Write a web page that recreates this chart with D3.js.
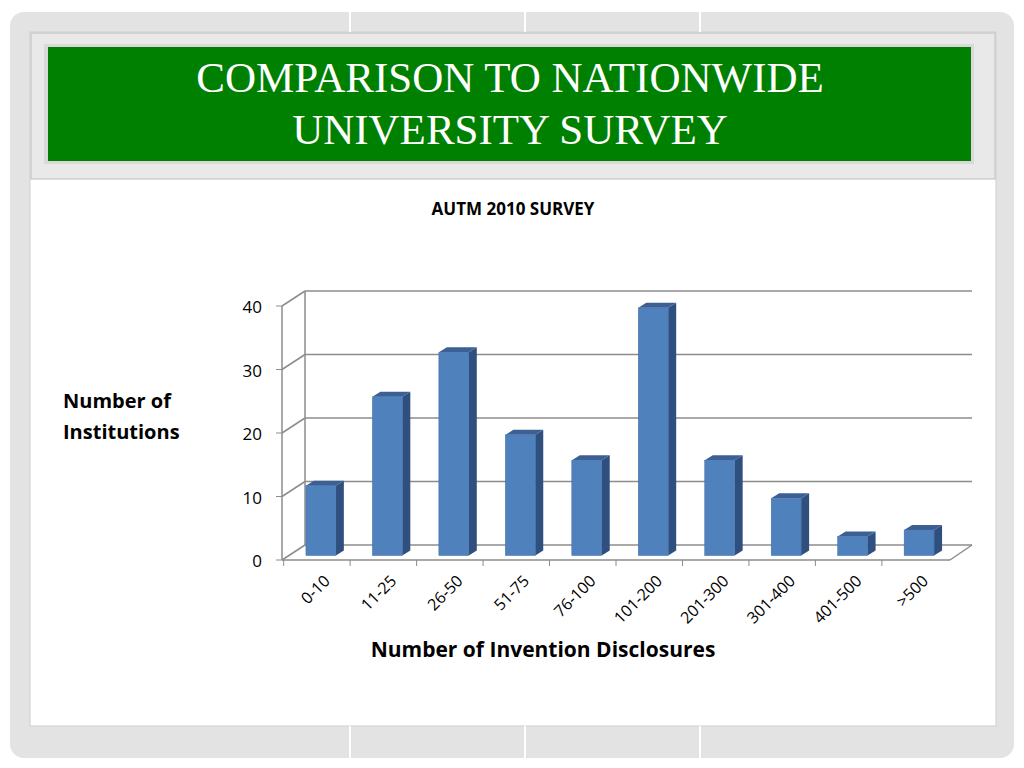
<!DOCTYPE html><html><head><meta charset="utf-8">
<script src="https://cdn.jsdelivr.net/npm/d3@7"></script>
<style>body{margin:0;background:#fff}svg{display:block}</style></head><body>
<svg id="c" width="1024" height="768"></svg>
<script>
const categories=["0-10","11-25","26-50","51-75","76-100","101-200","201-300","301-400","401-500",">500"];
const values=[11,25,32,19,15,39,15,9,3,4];
const yTicks=[0,10,20,30,40];
const titleLines=["COMPARISON TO NATIONWIDE","UNIVERSITY SURVEY"];
const chartTitle="AUTM 2010 SURVEY";
const yLabel=["Number of","Institutions"];
const xLabel="Number of Invention Disclosures";

const svg=d3.select("#c");
// slide frame
svg.append("rect").attr("x",0).attr("y",0).attr("width",1024).attr("height",768).attr("fill","#fff");
svg.append("rect").attr("x",10).attr("y",12).attr("width",1004).attr("height",746).attr("rx",14).attr("fill","#e3e3e3");
svg.append("rect").attr("x",30).attr("y",32).attr("width",966).attr("height",694).attr("fill","#fff").attr("stroke","#cfcfcf");
[350,525,700].forEach(x=>{svg.append("line").attr("x1",x).attr("x2",x).attr("y1",12).attr("y2",32).attr("stroke","#fff").attr("stroke-width",2);
 svg.append("line").attr("x1",x).attr("x2",x).attr("y1",726).attr("y2",758).attr("stroke","#fff").attr("stroke-width",2);});
svg.append("rect").attr("x",31).attr("y",33).attr("width",964).attr("height",146).attr("fill","#e9e9e9").attr("stroke","#bdbdbd");
svg.append("rect").attr("x",44).attr("y",44).attr("width",930).attr("height",120).attr("fill","#d9d9d9");
svg.append("rect").attr("x",48).attr("y",47).attr("width",923).attr("height",114).attr("fill","#008000");
svg.selectAll(".tl").data(titleLines).join("text").attr("x",510).attr("y",(d,i)=>92+i*52)
 .attr("text-anchor","middle").attr("fill","#fff").attr("font-family","Liberation Serif, serif").attr("font-size",43).text(d=>d);

svg.append("text").attr("x",513).attr("y",215).attr("text-anchor","middle").attr("font-family","Open Sans, sans-serif")
 .attr("font-weight","bold").attr("font-size",17).text(chartTitle);

// 3D geometry
const dx=23,dy=-15;
const x=d3.scaleBand().domain(categories).range([282,950]).paddingInner(0.55).paddingOuter(0.3);
const y=d3.scaleLinear().domain([0,40]).range([560,306]);
const g=svg.append("g");
// back wall gridlines
yTicks.forEach(t=>{
 const yy=y(t)+dy;
 g.append("line").attr("x1",282+dx).attr("x2",972).attr("y1",yy).attr("y2",yy).attr("stroke","#8c8c8c").attr("stroke-width",1.5);
 g.append("line").attr("x1",282).attr("x2",282+dx).attr("y1",y(t)).attr("y2",yy).attr("stroke","#8c8c8c").attr("stroke-width",1.5);
 g.append("line").attr("x1",276).attr("x2",282).attr("y1",y(t)).attr("y2",y(t)).attr("stroke","#8c8c8c");
 g.append("text").attr("x",262).attr("y",y(t)+7).attr("text-anchor","end").attr("font-family","Open Sans, sans-serif").attr("font-size",17).text(t);
});
g.append("line").attr("x1",282).attr("x2",282).attr("y1",y(0)).attr("y2",y(40)).attr("stroke","#8c8c8c").attr("stroke-width",1.5);
g.append("line").attr("x1",282+dx).attr("x2",282+dx).attr("y1",y(0)+dy).attr("y2",y(40)+dy).attr("stroke","#8c8c8c").attr("stroke-width",1.5);
g.append("line").attr("x1",282).attr("x2",950).attr("y1",y(0)).attr("y2",y(0)).attr("stroke","#8c8c8c").attr("stroke-width",1.5);
g.append("line").attr("x1",950).attr("x2",972).attr("y1",y(0)).attr("y2",y(0)+dy).attr("stroke","#8c8c8c").attr("stroke-width",1.5);
categories.forEach(c=>{const xx=x(c)-x.step()*x.paddingInner()/2;
 g.append("line").attr("x1",xx).attr("x2",xx).attr("y1",y(0)).attr("y2",y(0)+6).attr("stroke","#8c8c8c");});
// bars
const bdx=8,bdy=-5;
categories.forEach((c,i)=>{
 const x0=x(c)+bdx/2, w=x.bandwidth(), yt=y(values[i])+dy/2+3, yb=y(0)+dy/2+3;
 g.append("path").attr("d",`M${x0+w},${yb}L${x0+w+bdx},${yb+bdy}L${x0+w+bdx},${yt+bdy}L${x0+w},${yt}Z`).attr("fill","#2f4f7f");
 g.append("path").attr("d",`M${x0},${yt}L${x0+bdx},${yt+bdy}L${x0+w+bdx},${yt+bdy}L${x0+w},${yt}Z`).attr("fill","#3c6094");
 g.append("rect").attr("x",x0).attr("y",yt).attr("width",w).attr("height",yb-yt).attr("fill","#4f81bd").attr("stroke","#3d6aa3").attr("stroke-width",0.5);
 g.append("text").attr("transform",`translate(${x(c)+x.bandwidth()/2+14},${y(0)+22}) rotate(-45)`).attr("text-anchor","end")
  .attr("font-family","Open Sans, sans-serif").attr("font-size",16).text(c);
});
svg.selectAll(".yl").data(yLabel).join("text").attr("x",63).attr("y",(d,i)=>408+i*31).attr("font-family","Open Sans, sans-serif")
 .attr("font-weight","bold").attr("font-size",20).text(d=>d);
svg.append("text").attr("x",543).attr("y",657).attr("text-anchor","middle").attr("font-family","Open Sans, sans-serif")
 .attr("font-weight","bold").attr("font-size",21).text(xLabel);
</script></body></html>
